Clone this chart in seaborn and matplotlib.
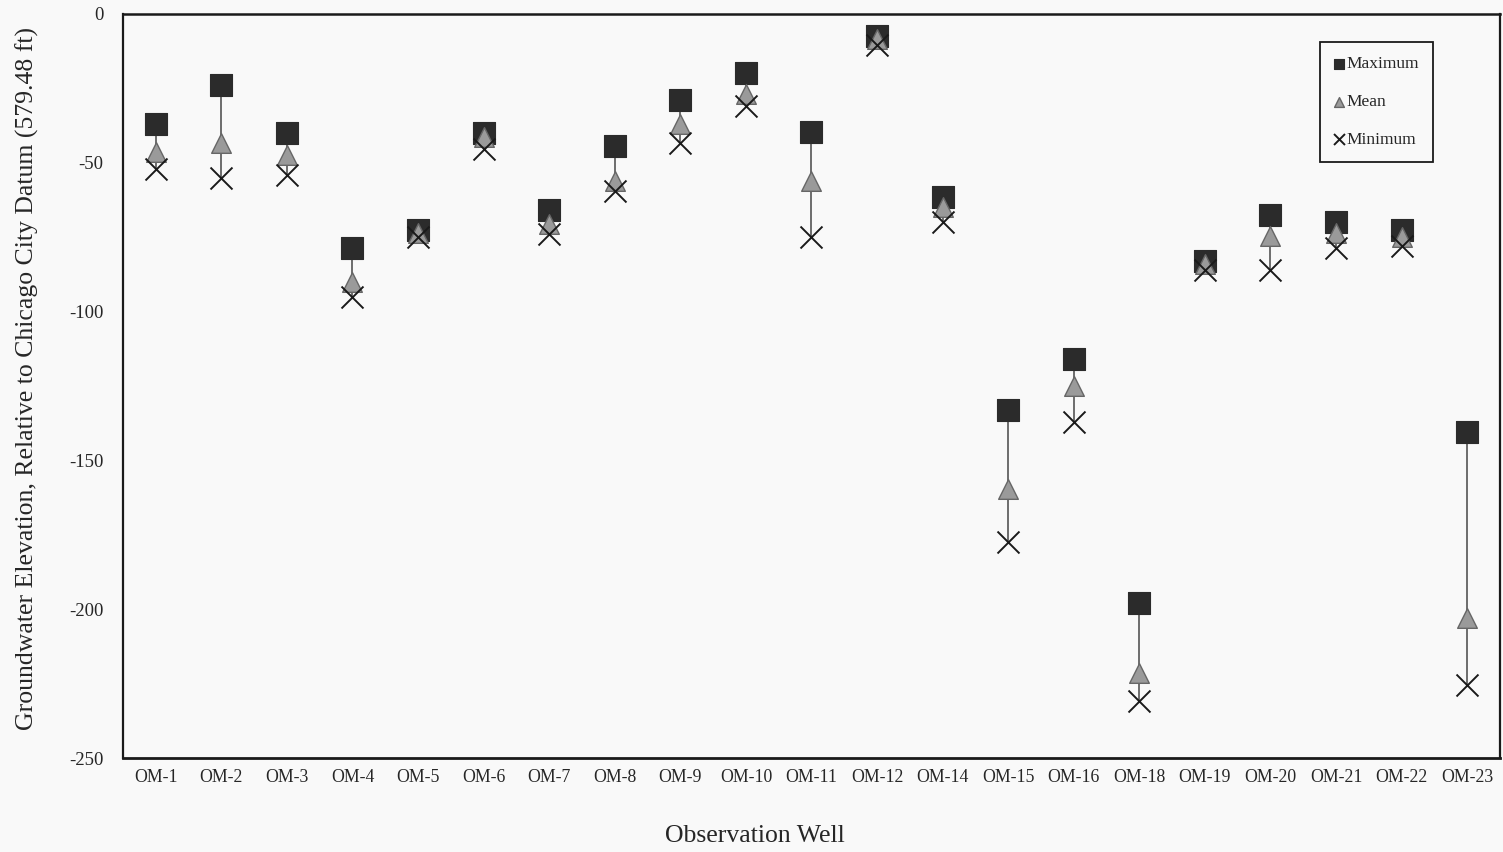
from matplotlib import pyplot as plt
import seaborn as sns
import pandas as pd


# Groundwater elevations (ft, relative to Chicago City Datum)
wells = ['OM-1', 'OM-2', 'OM-3', 'OM-4', 'OM-5', 'OM-6', 'OM-7', 'OM-8', 'OM-9', 'OM-10', 'OM-11',
         'OM-12', 'OM-14', 'OM-15', 'OM-16', 'OM-18', 'OM-19', 'OM-20', 'OM-21', 'OM-22', 'OM-23']
maximum = [-37, -24, -40, -78.5, -72.5, -40, -66, -44.5, -29, -20, -39.5,
           -7.5, -61.5, -133, -116, -198, -83, -67.5, -70, -72.5, -140.5]
mean = [-46.5, -43.5, -47.5, -90, -73.5, -41.5, -70.5, -56, -37, -27, -56,
        -8.5, -65, -159.5, -125, -221.5, -84, -74.5, -73.5, -75, -203]
minimum = [-52, -55, -54, -95, -75, -45.5, -74, -59.5, -43.5, -31, -75,
           -10.5, -70, -177.5, -137, -231, -86, -86, -78.5, -78, -225.5]
y_ticks = [0, -50, -100, -150, -200, -250]

df = pd.DataFrame({'well': wells, 'Maximum': maximum, 'Mean': mean, 'Minimum': minimum})

COLOR = {'dark': '#2b2b2b', 'grey': '#9a9a9a', 'line': '#555555', 'bg': '#f9f9f9'}
FD_XTICK = {'family': 'Liberation Serif', 'size': 12.8}
FD_YTICK = {'family': 'Liberation Serif', 'size': 13.5}
FD_AXIS = {'family': 'Liberation Serif', 'size': 18.5}

sns.set_style('white')
plt.rcParams['font.family'] = ['Liberation Serif', 'DejaVu Serif']

fig = plt.figure(figsize=(15.03, 8.52), dpi=100, facecolor=COLOR['bg'])
ax = fig.add_axes([0.0818, 0.1103, 0.9162, 0.8733], facecolor=COLOR['bg'])

# range line from max to min for every well
pos = range(len(wells))
ax.vlines(pos, df['Minimum'], df['Maximum'], color=COLOR['line'], linewidth=1.2, zorder=1)

sns.scatterplot(data=df, x='well', y='Maximum', marker='s', s=230, color=COLOR['dark'],
                edgecolor=COLOR['dark'], linewidth=0.8, label='Maximum', ax=ax, zorder=2)
sns.scatterplot(data=df, x='well', y='Mean', marker='^', s=200, color=COLOR['grey'],
                edgecolor='#666666', linewidth=1.0, label='Mean', ax=ax, zorder=3)
sns.scatterplot(data=df, x='well', y='Minimum', marker='x', s=250, color='#1a1a1a',
                linewidth=1.4, label='Minimum', ax=ax, zorder=4)

ax.set_xlim(-0.5, len(wells) - 0.5)
ax.set_ylim(-250, 0)
ax.set_yticks(y_ticks)
ax.set_yticklabels([str(t) for t in y_ticks], fontdict=FD_YTICK)
ax.set_xticks(list(pos))
ax.set_xticklabels(wells, fontdict=FD_XTICK)
ax.set_xticks([p + 0.5 for p in pos][:-1], minor=True)
ax.tick_params(axis='x', which='major', length=0, pad=8)
ax.tick_params(axis='x', which='minor', direction='inout', length=8, width=1, color='#222222')
ax.tick_params(axis='y', which='major', direction='inout', length=10, width=1, color='#222222', pad=9)

for side in ['top', 'bottom', 'left', 'right']:
    ax.spines[side].set_visible(True)
    ax.spines[side].set_color('#1a1a1a')
ax.spines['top'].set_linewidth(1.8)
ax.spines['bottom'].set_linewidth(2.0)
ax.spines['left'].set_linewidth(1.6)
ax.spines['right'].set_linewidth(1.6)

# axis titles: x title sits at the figure centre, y title near the left edge
ax.set_xlabel('')
ax.set_ylabel('')
fig.text(0.502, 0.019, 'Observation Well', ha='center', va='center', fontdict=FD_AXIS)
fig.text(0.018, 0.556, 'Groundwater Elevation, Relative to Chicago City Datum (579.48 ft)',
         rotation=90, ha='center', va='center', fontdict=FD_AXIS)

leg = ax.legend(loc='upper right', bbox_to_anchor=(0.951, 0.962), frameon=True, fancybox=False,
                prop={'family': 'Liberation Serif', 'size': 12.5}, markerscale=0.5,
                handlelength=0.6, handletextpad=0.1, labelspacing=1.25, borderpad=0.8,
                borderaxespad=0, edgecolor='#1a1a1a', facecolor=COLOR['bg'], framealpha=1)
leg.get_frame().set_linewidth(1.3)

fig.savefig('out.png', dpi=100, facecolor=COLOR['bg'])
